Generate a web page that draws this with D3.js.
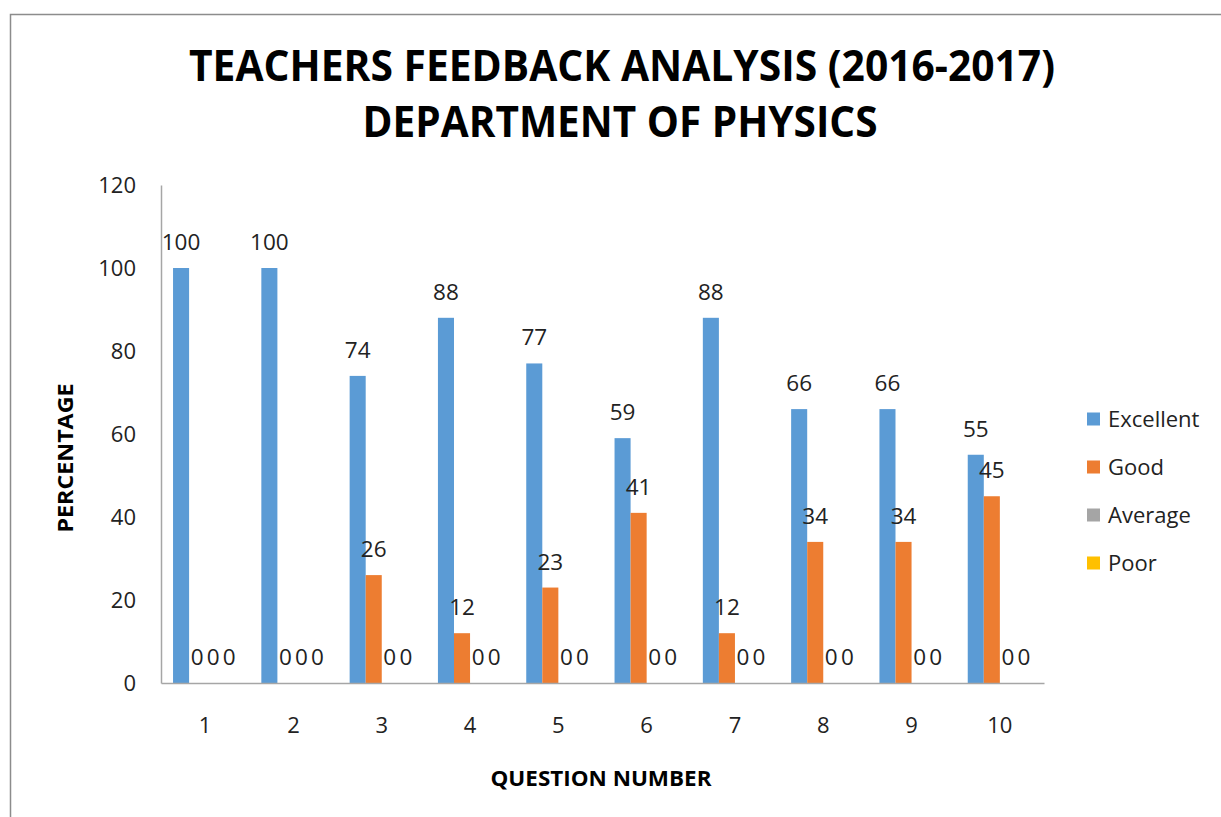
<!DOCTYPE html>
<html>
<head>
<meta charset="utf-8">
<script src="https://cdn.jsdelivr.net/npm/d3@7"></script>
<style>
  body { margin: 0; background: #fff; }
  svg { display: block; font-family: "Open Sans", sans-serif; }
</style>
</head>
<body>
<div id="chart"></div>
<script>
const categories = ["1", "2", "3", "4", "5", "6", "7", "8", "9", "10"];
const seriesNames = ["Excellent", "Good", "Average", "Poor"];
const excellent = [100, 100, 74, 88, 77, 59, 88, 66, 66, 55];
const good = [0, 0, 26, 12, 23, 41, 12, 34, 34, 45];
const average = [0, 0, 0, 0, 0, 0, 0, 0, 0, 0];
const poor = [0, 0, 0, 0, 0, 0, 0, 0, 0, 0];
const yTicks = [0, 20, 40, 60, 80, 100, 120];
const colors = ["#5B9BD5", "#ED7D31", "#A5A5A5", "#FFC000"];

const seriesValues = [excellent, good, average, poor];

const width = 1221, height = 817;
const plot = { left: 161, right: 1044, top: 185, bottom: 683 };

const svg = d3.select("#chart").append("svg")
    .attr("width", width)
    .attr("height", height);

// chart frame (right and bottom edges run off the page)
svg.append("rect")
    .attr("x", 10.5).attr("y", 14.5)
    .attr("width", 1230).attr("height", 830)
    .attr("fill", "none")
    .attr("stroke", "#8c8c8c")
    .attr("stroke-width", 1.5);

// title
const title = svg.append("g").attr("font-weight", "bold").attr("fill", "#000").attr("text-anchor", "middle");
title.append("text")
    .attr("x", 622).attr("y", 81)
    .attr("font-size", 43)
    .attr("textLength", 866).attr("lengthAdjust", "spacingAndGlyphs")
    .text("TEACHERS FEEDBACK ANALYSIS (2016-2017)");
title.append("text")
    .attr("x", 620).attr("y", 137)
    .attr("font-size", 43)
    .attr("textLength", 515).attr("lengthAdjust", "spacingAndGlyphs")
    .text("DEPARTMENT OF PHYSICS");

const x0 = d3.scaleBand()
    .domain(categories)
    .range([plot.left, plot.right]);

const x1 = d3.scaleBand()
    .domain(seriesNames)
    .range([0, x0.bandwidth()])
    .paddingOuter(0.75);

const y = d3.scaleLinear()
    .domain([0, 120])
    .range([plot.bottom, plot.top]);

// y axis
const yAxis = svg.append("g")
    .attr("transform", `translate(${plot.left},0)`)
    .call(d3.axisLeft(y).tickValues(yTicks).tickSize(0).tickPadding(25));
yAxis.select(".domain").attr("stroke", "#a6a6a6").attr("stroke-width", 1.5);
yAxis.selectAll("text")
    .attr("font-size", 22)
    .attr("font-family", "'Open Sans', sans-serif")
    .attr("fill", "#222");

// bars
const groups = svg.append("g").selectAll("g")
    .data(categories)
    .join("g")
    .attr("transform", d => `translate(${x0(d)},0)`);

const cells = groups.selectAll("g")
    .data((c, i) => seriesNames.map((s, k) => ({ series: s, value: seriesValues[k][i], color: colors[k] })))
    .join("g");

cells.append("rect")
    .attr("x", d => x1(d.series))
    .attr("width", x1.bandwidth())
    .attr("y", d => y(d.value))
    .attr("height", d => y(0) - y(d.value))
    .attr("fill", d => d.color);

cells.append("text")
    .attr("x", d => x1(d.series) + x1.bandwidth() / 2)
    .attr("y", d => y(d.value) - 18)
    .attr("text-anchor", "middle")
    .attr("font-size", 22.5)
    .attr("fill", "#222")
    .text(d => d.value);

// x axis
const xAxis = svg.append("g")
    .attr("transform", `translate(0,${plot.bottom})`)
    .call(d3.axisBottom(x0).tickSize(0).tickPadding(34).tickSizeOuter(0));
xAxis.select(".domain").attr("stroke", "#a6a6a6").attr("stroke-width", 1.5);
xAxis.selectAll("text")
    .attr("font-size", 22)
    .attr("font-family", "'Open Sans', sans-serif")
    .attr("fill", "#222");

// axis titles
svg.append("text")
    .attr("x", 601).attr("y", 786)
    .attr("text-anchor", "middle")
    .attr("font-weight", "bold")
    .attr("font-size", 22)
    .attr("textLength", 221).attr("lengthAdjust", "spacingAndGlyphs")
    .text("QUESTION NUMBER");

svg.append("text")
    .attr("transform", "translate(73,458) rotate(-90)")
    .attr("text-anchor", "middle")
    .attr("font-weight", "bold")
    .attr("font-size", 22)
    .attr("textLength", 149).attr("lengthAdjust", "spacingAndGlyphs")
    .text("PERCENTAGE");

// legend
const legend = svg.append("g").selectAll("g")
    .data(seriesNames)
    .join("g")
    .attr("transform", (d, i) => `translate(1087,${419 + i * 48})`);

legend.append("rect")
    .attr("x", 0).attr("y", -6.5)
    .attr("width", 13).attr("height", 13)
    .attr("fill", (d, i) => colors[i]);

legend.append("text")
    .attr("x", 21).attr("dy", "0.35em")
    .attr("font-size", 22)
    .attr("fill", "#222")
    .text(d => d);
</script>
</body>
</html>
